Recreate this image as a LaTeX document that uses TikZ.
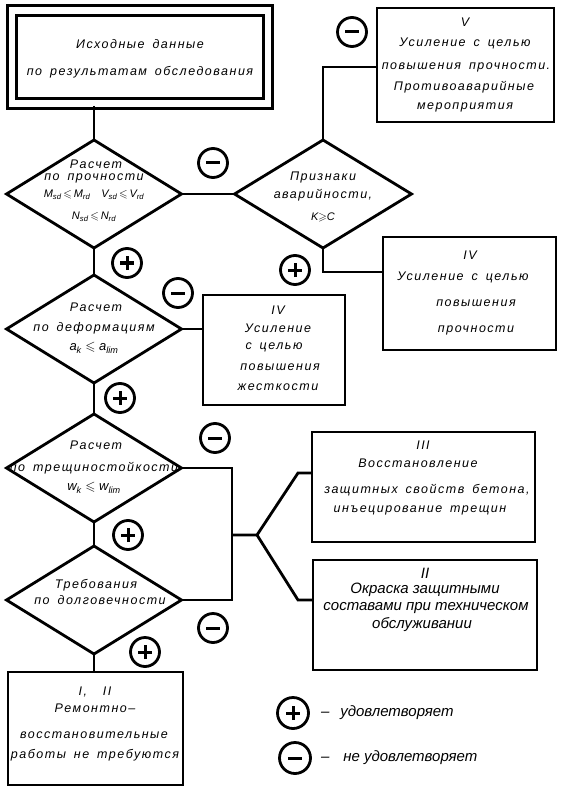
\documentclass[tikz,border=0pt]{standalone}
\usepackage{amssymb}
\usepackage{fontspec}
\setmainfont{Liberation Sans}
\newfontfamily\gost[LetterSpace=12,WordSpace=1.6]{Liberation Sans}
\usetikzlibrary{shapes.geometric}
\begin{document}
\begin{tikzpicture}[x=1pt,y=-1pt,line width=2.8pt,
  every node/.style={outer sep=0pt,inner sep=0pt},
  dia/.style={draw,diamond,minimum width=175pt,minimum height=108pt},
  box/.style={draw,rectangle},
  lbl/.style={font=\gost\itshape\fontsize{12.5}{14}\selectfont,align=center},
  frm/.style={font=\itshape\fontsize{11}{13}\selectfont,align=center},
  lbla/.style={font=\itshape\fontsize{15}{17}\selectfont,align=center},
  sgn/.style={draw,circle,minimum size=29pt,line width=2.8pt},
  plus/.style={sgn,path picture={
    \draw[line width=3pt] ([xshift=-7pt]path picture bounding box.center) -- ([xshift=7pt]path picture bounding box.center);
    \draw[line width=3pt] ([yshift=-7pt]path picture bounding box.center) -- ([yshift=7pt]path picture bounding box.center);}},
  minus/.style={sgn,path picture={
    \draw[line width=3pt] ([xshift=-7pt]path picture bounding box.center) -- ([xshift=7pt]path picture bounding box.center);}}
]
\fill[white] (0,0) rectangle (562,791);
\useasboundingbox (0,0) rectangle (562,791);

% top double box
\node[box,double,double distance=6.5pt,minimum width=256pt,minimum height=93pt] (top) at (140,57) {};
\node[lbl] (t1) at (140,44) {Исходные данные};
\node[lbl] (t2) at (140,72) {по результатам обследования};

% diamonds
\node[dia] (d1) at (94,194) {};
\node[dia,minimum width=177pt] (dp) at (323,194) {};
\node[dia] (d2) at (94,329) {};
\node[dia] (d3) at (94,468) {};
\node[dia] (d4) at (94,600) {};

% boxes
\node[box,minimum width=177pt,minimum height=114pt] (bV) at (465.5,65) {};
\node[box,minimum width=173pt,minimum height=113pt] (bIVa) at (469.5,293.5) {};
\node[box,minimum width=142pt,minimum height=110pt] (bIVb) at (274,350) {};
\node[box,minimum width=223pt,minimum height=110pt] (bIII) at (423.5,487) {};
\node[box,minimum width=224pt,minimum height=110pt] (bII) at (425,615) {};
\node[box,minimum width=175pt,minimum height=113pt] (bI) at (95.5,728.5) {};

% texts diamond 1
\node[lbl] (a1) at (96,164) {Расчет};
\node[lbl] (a2) at (94,178) {по прочности};
\node[frm] (a3) at (94,195) {M\textsubscript{sd}\,$\leqslant$\,M\textsubscript{rd}\quad V\textsubscript{sd}\,$\leqslant$\,V\textsubscript{rd}};
\node[frm] (a4) at (94,217) {N\textsubscript{sd}\,$\leqslant$\,N\textsubscript{rd}};
% diamond P
\node[lbl] (p1) at (323,177) {Признаки};
\node[lbl] (p2) at (323,195) {аварийности,};
\node[frm] (p3) at (323,217) {K$\geqslant$C};
% box V
\node[lbl] (v1) at (465,22) {V};
\node[lbl] (v2) at (465,43) {Усиление с целью};
\node[lbl] (v3) at (466,67) {повышения прочности.};
\node[lbl] (v4) at (464,87) {Противоаварийные};
\node[lbl] (v5) at (465,107) {мероприятия};
% box IVa
\node[lbl] (w1) at (470,255) {IV};
\node[lbl] (w2) at (463,277) {Усиление с целью};
\node[lbl] (w3) at (476,303) {повышения};
\node[lbl] (w4) at (476,330) {прочности};
% diamond 2
\node[lbl] (b1) at (96,307) {Расчет};
\node[lbl] (b2) at (94,328) {по деформациям};
\node[frm,font=\itshape\fontsize{13}{15}\selectfont] (b3) at (94,348) {a\textsubscript{k} $\leqslant$ a\textsubscript{lim}};
% box IVb
\node[lbl] (x1) at (278,310) {IV};
\node[lbl] (x2) at (278,328) {Усиление};
\node[lbl] (x3) at (274,347) {с целью};
\node[lbl] (x4) at (280,367) {повышения};
\node[lbl] (x5) at (278,387) {жесткости};
% diamond 3
\node[lbl] (c1) at (96,445) {Расчет};
\node[lbl] (c2) at (94,468) {по трещиностойкости};
\node[frm,font=\itshape\fontsize{13}{15}\selectfont] (c3) at (94,488) {w\textsubscript{k} $\leqslant$ w\textsubscript{lim}};
% box III
\node[lbl] (y1) at (423,445) {III};
\node[lbl] (y2) at (418,463) {Восстановление};
\node[lbl] (y3) at (427,490) {защитных свойств бетона,};
\node[lbl] (y4) at (420,510) {инъецирование трещин};
% diamond 4
\node[lbl] (e1) at (96,585) {Требования};
\node[lbl] (e2) at (100,600) {по долговечности};
% box II
\node[lbla] (z1) at (425,573) {II};
\node[lbla] (z2) at (425,590) {Окраска защитными};
\node[lbla] (z3) at (426,608) {составами при техническом};
\node[lbla] (z4) at (422,625) {обслуживании};
% box I
\node[lbl] (f1) at (95,692) {I, \ II};
\node[lbl] (f2) at (95,708) {Ремонтно–};
\node[lbl] (f3) at (94,735) {восстановительные};
\node[lbl] (f4) at (95,755) {работы не требуются};

% signs
\node[minus] (s1) at (213,163) {};
\node[plus] (s2) at (127,263) {};
\node[minus] (s3) at (352,32) {};
\node[plus] (s4) at (295,270) {};
\node[minus] (s5) at (178,293) {};
\node[plus] (s6) at (120,398) {};
\node[minus] (s7) at (215,438) {};
\node[plus] (s8) at (128,535) {};
\node[minus] (s9) at (213,628) {};
\node[plus] (s10) at (145,652) {};

% legend
\node[plus,minimum size=31pt] (lp) at (293,713) {};
\node[minus,minimum size=31pt] (lm) at (295,758) {};
\node[lbla,anchor=west] (lpt) at (321,713) {–\hspace{11pt}удовлетворяет};
\node[lbla,anchor=west] (lmt) at (321,758) {–\hspace{14pt}не удовлетворяет};

% connectors
\coordinate (tb) at (94,106);
\draw (tb) -- (d1.north);
\draw (d1.east) -- (dp.west);
\draw (dp.north) |- ([yshift=-2pt]bV.west);
\draw (dp.south) |- ([yshift=21.5pt]bIVa.west);
\draw (d1.south) -- (d2.north);
\draw (d2.east) -- (d2.east -| bIVb.west);
\draw (d2.south) -- (d3.north);
\draw (d3.south) -- (d4.north);
\draw (d4.south) -- (d4.south |- bI.north);
\coordinate (j1) at (232,468);
\coordinate (j2) at (232,600);
\coordinate (jm) at (232,535);
\coordinate (fk) at (257,535);
\coordinate (u1) at (298,473);
\coordinate (l1) at (298,600);
\draw (d3.east) -- (j1) -- (j2) -- (d4.east);
\draw (jm) -- (fk) -- (u1) -- (u1 -| bIII.west);
\draw (fk) -- (l1) -- (l1 -| bII.west);
\end{tikzpicture}
\end{document}
